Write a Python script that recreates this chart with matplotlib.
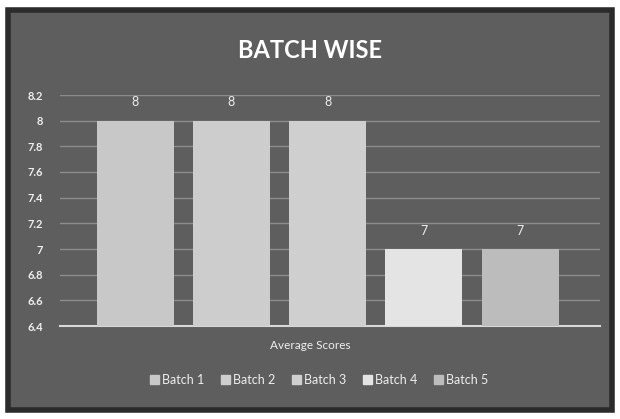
import matplotlib.pyplot as plt
import matplotlib.patches as mpatches

plt.rcParams['font.family'] = ['Lato', 'DejaVu Sans']

series = ["Batch 1", "Batch 2", "Batch 3", "Batch 4", "Batch 5"]
scores = [8, 8, 8, 7, 7]
category = "Average Scores"
yticks = [6.4, 6.6, 6.8, 7, 7.2, 7.4, 7.6, 7.8, 8, 8.2]
ytick_labels = ["6.4", "6.6", "6.8", "7", "7.2", "7.4", "7.6", "7.8", "8", "8.2"]

bg = "#5e5e5e"
bar_colors = ["#c8c8c8", "#cdcdcd", "#cfcfcf", "#e4e4e4", "#bcbcbc"]
txt = "#eeeeee"

fig = plt.figure(figsize=(6.2, 4.19), dpi=100)
fig.patch.set_facecolor("white")

# chart panel with dark frame
panel = mpatches.Rectangle((8/620, 1-410/419), 604/620, 400/419, transform=fig.transFigure,
                           facecolor=bg, edgecolor="#2b2b2b", linewidth=4, zorder=-5)
fig.patches.append(panel)

ax = fig.add_axes([60/620, 1-326/419, 540/620, 231/419])
ax.set_facecolor("none")
ax.set_zorder(2)

x = list(range(len(series)))
bars = ax.bar(x, scores, width=0.8, color=bar_colors, zorder=3)
for xi, v in zip(x, scores):
    ax.annotate(str(v), (xi, v), xytext=(0, 9), textcoords="offset points",
                ha="center", va="bottom", color=txt, fontsize=9)

ax.set_ylim(6.4, 8.2)
ax.set_xlim(-0.78, 4.83)
ax.set_yticks(yticks)
ax.set_yticklabels(ytick_labels, color=txt, fontsize=8, fontweight="bold")
ax.set_xticks([])
ax.tick_params(axis="y", length=0, pad=12)
ax.grid(axis="y", color="#8c8c8c", linewidth=1, zorder=1)
for s in ["top", "right", "left"]:
    ax.spines[s].set_visible(False)
ax.spines["bottom"].set_color("#d8d8d8")
ax.spines["bottom"].set_linewidth(1.5)

fig.text(0.5, 1-50/419, "BATCH WISE", ha="center", va="center", color="white",
         fontsize=17, fontweight="bold")
fig.text(0.5, 1-345/419, category, ha="center", va="center", color=txt, fontsize=8.5)

handles = [mpatches.Patch(color=c) for c in bar_colors]
fig.legend(handles, series, loc="center", bbox_to_anchor=(0.515, 1-380/419), ncol=5,
           frameon=False, fontsize=9, labelcolor=txt, handlelength=0.7, handleheight=0.7,
           handletextpad=0.3, columnspacing=1.3)

fig.savefig("out.png", dpi=100, facecolor=fig.get_facecolor())
